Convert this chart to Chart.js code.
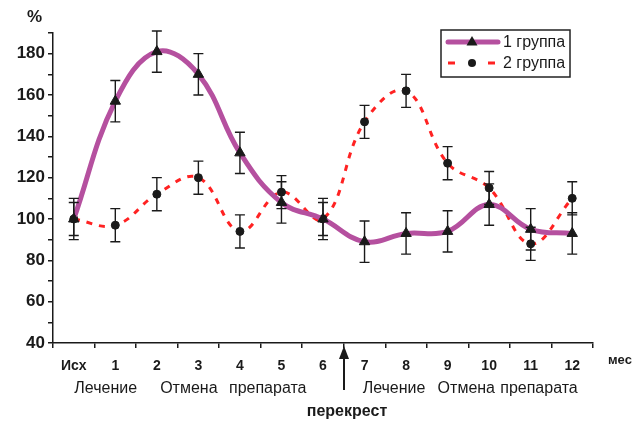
<!DOCTYPE html>
<html>
<head>
<meta charset="utf-8">
<script src="https://cdn.jsdelivr.net/npm/chart.js@4.4.1/dist/chart.umd.min.js"></script>
<style>
  html, body { margin: 0; padding: 0; background: #fff; }
  #wrap { width: 634px; height: 421px; position: relative; }
</style>
</head>
<body>
<div id="wrap"><canvas id="c" width="634" height="421"></canvas></div>
<script>
// Months of observation
const months = ['Исх', '1', '2', '3', '4', '5', '6', '7', '8', '9', '10', '11', '12'];

// Group 1 (%), mean and error
const group1 = [100, 157, 181, 170, 132, 108, 100, 89, 93, 94, 107, 95, 93];
const group1Err = [10, 10, 10, 10, 10, 10, 10, 10, 10, 10, 10, 10, 10];

// Group 2 (%), mean and error
const group2 = [100, 97, 112, 120, 94, 113, 100, 147, 162, 127, 115, 88, 110];
const group2Err = [8, 8, 8, 8, 8, 8, 8, 8, 8, 8, 8, 8, 8];

// Labelled y values
const yTickLabels = [40, 60, 80, 100, 120, 140, 160, 180];

// Study phases written under the month numbers
const phaseLabels = ['Лечение', 'Отмена', 'препарата', 'Лечение', 'Отмена', 'препарата'];
const phaseAt = [0.77, 2.77, 4.67, 7.71, 9.45, 11.2];
const crossoverAt = 6.5;

const FONT = '"Liberation Sans", Arial, Helvetica, sans-serif';
const INK = '#1a1a1a';
const MAGENTA = '#B5509F';
const RED = '#FF2222';

// Vertical error bars with caps, placed through the chart's own scales
const errorBars = {
  id: 'errorBars',
  afterDatasetsDraw(chart) {
    const ctx = chart.ctx;
    const y = chart.scales.y;
    const errs = [group1Err, group2Err];
    chart.data.datasets.forEach((ds, i) => {
      const meta = chart.getDatasetMeta(i);
      ctx.save();
      ctx.strokeStyle = INK;
      ctx.lineWidth = 1.4;
      meta.data.forEach((pt, j) => {
        const v = ds.data[j], e = errs[i][j];
        const top = y.getPixelForValue(v + e);
        const bot = y.getPixelForValue(v - e);
        ctx.beginPath();
        ctx.moveTo(pt.x, top); ctx.lineTo(pt.x, bot);
        ctx.moveTo(pt.x - 5, top); ctx.lineTo(pt.x + 5, top);
        ctx.moveTo(pt.x - 5, bot); ctx.lineTo(pt.x + 5, bot);
        ctx.stroke();
      });
      ctx.restore();
    });
  }
};

// Axis units, phase captions, crossover arrow and the framed legend
const decorations = {
  id: 'decorations',
  afterDraw(chart) {
    const ctx = chart.ctx;
    const x = chart.scales.x;
    ctx.save();
    ctx.fillStyle = INK;

    ctx.font = 'bold 17px ' + FONT;
    ctx.textAlign = 'left';
    ctx.textBaseline = 'alphabetic';
    ctx.fillText('%', 27, 22);

    ctx.font = 'bold 13px ' + FONT;
    ctx.fillText('мес', 608, 364);

    ctx.font = '16px ' + FONT;
    ctx.textAlign = 'center';
    phaseLabels.forEach((t, i) => {
      ctx.fillText(t, x.getPixelForValue(phaseAt[i]), 393);
    });

    // crossover arrow
    const ax = Math.round(x.getPixelForValue(crossoverAt));
    ctx.strokeStyle = INK;
    ctx.lineWidth = 2;
    ctx.beginPath();
    ctx.moveTo(ax, 356); ctx.lineTo(ax, 390);
    ctx.stroke();
    ctx.beginPath();
    ctx.moveTo(ax, 346); ctx.lineTo(ax - 5, 359); ctx.lineTo(ax + 5, 359);
    ctx.closePath();
    ctx.fill();

    ctx.font = 'bold 16px ' + FONT;
    ctx.fillText('перекрест', ax + 3, 416);

    // legend
    const L = 441, T = 30, R = 570, B = 77;
    ctx.fillStyle = '#fff';
    ctx.fillRect(L, T, R - L, B - T);
    ctx.strokeStyle = '#222';
    ctx.lineWidth = 1.5;
    ctx.strokeRect(L, T, R - L, B - T);

    const rows = [42, 63];
    chart.data.datasets.forEach((ds, i) => {
      const ry = rows[i];
      ctx.save();
      ctx.strokeStyle = ds.borderColor;
      ctx.lineWidth = ds.borderWidth;
      ctx.lineCap = 'round';
      if (i === 1) {
        ctx.lineCap = 'butt';
        ctx.setLineDash([7, 33]);
      }
      ctx.beginPath();
      ctx.moveTo(448, ry);
      ctx.lineTo(i === 0 ? 498 : 496, ry);
      ctx.stroke();
      ctx.restore();
      ctx.fillStyle = INK;
      if (ds.pointStyle === 'triangle') {
        ctx.beginPath();
        ctx.moveTo(472, ry - 6); ctx.lineTo(477.5, ry + 3.5); ctx.lineTo(466.5, ry + 3.5);
        ctx.closePath(); ctx.fill();
      } else {
        ctx.beginPath();
        ctx.arc(472, ry, 4, 0, Math.PI * 2);
        ctx.fill();
      }
      ctx.font = '16px ' + FONT;
      ctx.textAlign = 'left';
      ctx.textBaseline = 'middle';
      ctx.fillText(ds.label, 503, ry + 1);
    });
    ctx.restore();
  }
};

new Chart(document.getElementById('c'), {
  type: 'line',
  data: {
    labels: months,
    datasets: [
      {
        label: '1 группа',
        data: group1,
        borderColor: MAGENTA,
        borderWidth: 5,
        tension: 0.4,
        pointStyle: 'triangle',
        pointRadius: 6,
        pointBackgroundColor: INK,
        pointBorderColor: INK,
        pointBorderWidth: 1,
        fill: false
      },
      {
        label: '2 группа',
        data: group2,
        borderColor: RED,
        borderWidth: 3,
        borderDash: [6, 7],
        tension: 0.4,
        pointStyle: 'circle',
        pointRadius: 4,
        pointBackgroundColor: INK,
        pointBorderColor: INK,
        pointBorderWidth: 1,
        fill: false
      }
    ]
  },
  options: {
    responsive: false,
    animation: false,
    devicePixelRatio: 1,
    layout: { padding: { left: 0, top: 33, right: 41, bottom: 0 } },
    plugins: { legend: { display: false }, tooltip: { enabled: false } },
    scales: {
      x: {
        type: 'category',
        offset: true,
        grid: { offset: true, drawOnChartArea: false, tickLength: 5, color: INK, lineWidth: 1.5 },
        border: { color: INK, width: 1.5 },
        ticks: { color: INK, font: { family: FONT, size: 14, weight: 'bold' }, padding: 10, maxRotation: 0, autoSkip: false },
        afterFit(s) { s.height = 78; }
      },
      y: {
        min: 40,
        max: 190,
        grid: { drawOnChartArea: false, tickLength: 5, color: INK, lineWidth: 1.5 },
        border: { color: INK, width: 1.5 },
        ticks: {
          stepSize: 10,
          autoSkip: false,
          padding: 3,
          color: INK,
          font: { family: FONT, size: 17, weight: 'bold' },
          callback: v => (yTickLabels.includes(v) ? String(v) : '')
        },
        afterFit(s) { s.width = 53; }
      }
    }
  },
  plugins: [errorBars, decorations]
});
</script>
</body>
</html>
